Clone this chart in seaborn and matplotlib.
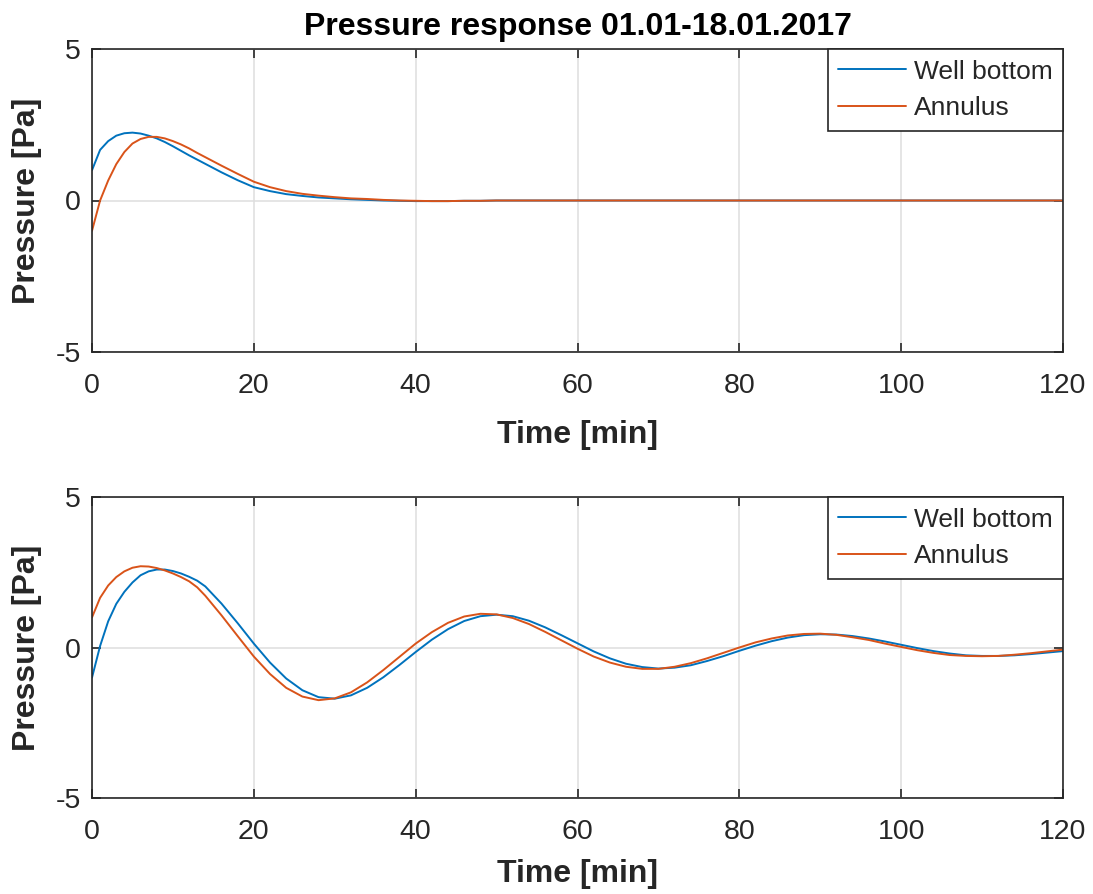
import matplotlib
matplotlib.use("Agg")
import matplotlib.pyplot as plt
import seaborn as sns

# ---------------- data ----------------
time_min = [0, 1, 2, 3, 4, 5, 6, 7, 8, 9, 10, 11, 12, 13, 14,
            16, 18, 20, 22, 24, 26, 28, 30, 32, 34, 36, 38, 40, 42, 44, 46, 48, 50,
            52, 54, 56, 58, 60, 62, 64, 66, 68, 70, 72, 74, 76, 78, 80, 82, 84, 86,
            88, 90, 92, 94, 96, 98, 100, 102, 104, 106, 108, 110, 112, 114, 116, 118, 120]

top_well_bottom = [1.00, 1.67, 1.96, 2.14, 2.22, 2.24, 2.21, 2.14, 2.05, 1.93, 1.79, 1.64, 1.49, 1.35, 1.21,
                   0.93, 0.67, 0.44, 0.31, 0.21, 0.15, 0.10, 0.07, 0.04, 0.02, 0.00, -0.01, -0.02, -0.02, -0.02, -0.01, -0.01, 0.00,
                   0, 0, 0, 0, 0, 0, 0, 0, 0, 0, 0, 0, 0, 0, 0, 0, 0, 0,
                   0, 0, 0, 0, 0, 0, 0, 0, 0, 0, 0, 0, 0, 0, 0, 0, 0]

top_annulus = [-1.00, 0.00, 0.66, 1.20, 1.60, 1.88, 2.03, 2.10, 2.10, 2.05, 1.96, 1.85, 1.72, 1.57, 1.43,
               1.15, 0.88, 0.62, 0.44, 0.31, 0.22, 0.16, 0.11, 0.07, 0.05, 0.02, 0.00, -0.01, -0.02, -0.02, -0.01, -0.01, 0.00,
               0, 0, 0, 0, 0, 0, 0, 0, 0, 0, 0, 0, 0, 0, 0, 0, 0, 0,
               0, 0, 0, 0, 0, 0, 0, 0, 0, 0, 0, 0, 0, 0, 0, 0, 0]

bottom_well_bottom = [-1.00, 0.05, 0.87, 1.45, 1.85, 2.16, 2.40, 2.53, 2.59, 2.59, 2.54, 2.46, 2.35, 2.22, 2.03,
                      1.46, 0.81, 0.13, -0.50, -1.03, -1.42, -1.65, -1.70, -1.59, -1.34, -0.99, -0.58, -0.15, 0.26, 0.61, 0.88, 1.04, 1.09,
                      1.04, 0.89, 0.67, 0.41, 0.14, -0.13, -0.36, -0.54, -0.65, -0.70, -0.67, -0.59, -0.45, -0.29, -0.11, 0.06, 0.21, 0.33,
                      0.41, 0.44, 0.43, 0.38, 0.30, 0.20, 0.09, -0.02, -0.12, -0.20, -0.26, -0.28, -0.28, -0.26, -0.22, -0.17, -0.12]

bottom_annulus = [1.00, 1.65, 2.06, 2.34, 2.53, 2.65, 2.70, 2.69, 2.64, 2.56, 2.46, 2.34, 2.20, 2.00, 1.72,
                  1.07, 0.38, -0.30, -0.88, -1.34, -1.63, -1.75, -1.69, -1.49, -1.16, -0.75, -0.31, 0.13, 0.51, 0.82, 1.03, 1.12, 1.10,
                  0.98, 0.78, 0.52, 0.24, -0.04, -0.30, -0.50, -0.64, -0.71, -0.71, -0.64, -0.52, -0.36, -0.18, 0.00, 0.17, 0.30, 0.40,
                  0.45, 0.46, 0.42, 0.34, 0.25, 0.13, 0.02, -0.09, -0.18, -0.25, -0.28, -0.29, -0.28, -0.24, -0.19, -0.13, -0.07]

x_ticks = [0, 20, 40, 60, 80, 100, 120]
y_ticks = [-5, 0, 5]
series_names = ["Well bottom", "Annulus"]
title_text = "Pressure response 01.01-18.01.2017"
x_label = "Time [min]"
y_label = "Pressure [Pa]"

# ---------------- styling ----------------
sns.set_theme(style="white")
plt.rcParams["font.family"] = ["Liberation Sans", "DejaVu Sans"]
plt.rcParams["axes.unicode_minus"] = False

BLUE = "#0072BD"
ORANGE = "#D95319"
AXC = "#262626"
GRID = "#dedede"

fig = plt.figure(figsize=(10.93, 8.94), dpi=100)
W, H = 1093, 894
ax1 = fig.add_axes([92 / W, 1 - 352 / H, 971 / W, 303 / H])
ax2 = fig.add_axes([92 / W, 1 - 798 / H, 971 / W, 301 / H])


def draw(ax, wb, an, xlabelpad):
    sns.lineplot(x=time_min, y=wb, ax=ax, color=BLUE, linewidth=1.4, label=series_names[0])
    sns.lineplot(x=time_min, y=an, ax=ax, color=ORANGE, linewidth=1.4, label=series_names[1])
    ax.set_xlim(0, 120)
    ax.set_ylim(-5, 5)
    ax.set_xticks(x_ticks)
    ax.set_yticks(y_ticks)
    ax.grid(True, color=GRID, linewidth=1.1)
    ax.set_axisbelow(True)
    for s in ax.spines.values():
        s.set_visible(True)
        s.set_color(AXC)
        s.set_linewidth(1.2)
    ax.tick_params(direction="in", length=6.5, width=1.2, color=AXC, labelcolor=AXC,
                   labelsize=20.5, top=True, right=True, bottom=True, left=True)
    ax.tick_params(axis="x", pad=15)
    ax.tick_params(axis="y", pad=8)
    ax.set_xlabel(x_label, fontsize=23, fontweight="bold", color=AXC, labelpad=xlabelpad)
    ax.set_ylabel(y_label, fontsize=23, fontweight="bold", color=AXC, labelpad=10)
    leg = ax.legend(loc="upper right", borderaxespad=0, fancybox=False, framealpha=1,
                    edgecolor=AXC, fontsize=19, handlelength=2.55, handletextpad=0.3,
                    labelspacing=0.48, borderpad=0.4)
    leg.get_frame().set_linewidth(1.2)


draw(ax1, top_well_bottom, top_annulus, 15)
draw(ax2, bottom_well_bottom, bottom_annulus, 10)
ax1.set_title(title_text, fontsize=23, fontweight="bold", color="black", pad=10)

fig.savefig("out.png", dpi=100)
